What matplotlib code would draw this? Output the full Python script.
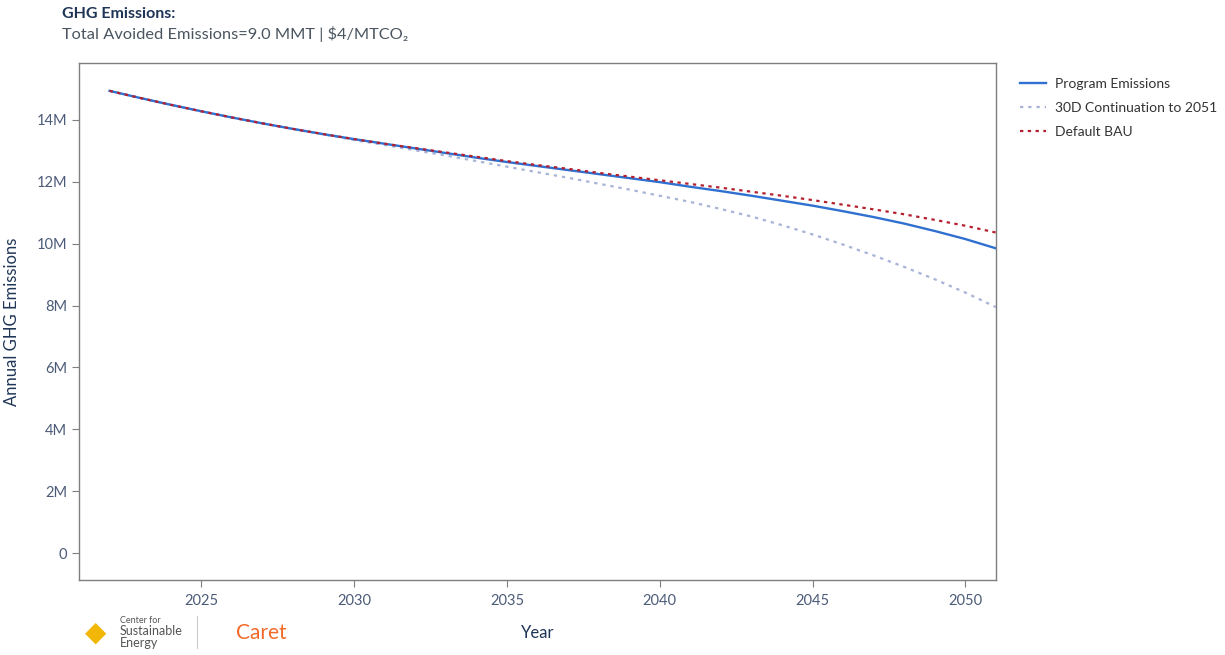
import matplotlib.pyplot as plt
from matplotlib.ticker import FuncFormatter

plt.rcParams['font.family'] = ['Lato', 'DejaVu Sans']

# Data (million metric tons CO2e)
years = list(range(2022, 2052))

program = [14.94, 14.71, 14.49, 14.28, 14.08, 13.89, 13.71, 13.54, 13.38, 13.23,
           13.08, 12.93, 12.78, 12.64, 12.51, 12.38, 12.25, 12.12, 11.99, 11.84,
           11.70, 11.55, 11.39, 11.23, 11.05, 10.86, 10.65, 10.41, 10.15, 9.85]

cont_30d = [14.94, 14.71, 14.49, 14.28, 14.08, 13.89, 13.71, 13.53, 13.35, 13.19,
            13.02, 12.85, 12.67, 12.49, 12.31, 12.13, 11.94, 11.75, 11.55, 11.35,
            11.12, 10.88, 10.60, 10.30, 9.97, 9.62, 9.25, 8.85, 8.42, 7.95]

bau = [14.94, 14.71, 14.49, 14.28, 14.08, 13.89, 13.71, 13.54, 13.38, 13.23,
       13.09, 12.95, 12.81, 12.67, 12.54, 12.42, 12.29, 12.17, 12.05, 11.93,
       11.81, 11.68, 11.55, 11.41, 11.26, 11.11, 10.95, 10.77, 10.58, 10.36]

xticks = [2025, 2030, 2035, 2040, 2045, 2050]
yticks = [0, 2, 4, 6, 8, 10, 12, 14]

navy = '#1f3556'
tickc = '#4b5b78'

fig = plt.figure(figsize=(12.25, 6.55), dpi=100)
ax = fig.add_axes([0.0645, 0.1145, 0.7485, 0.7893])

scale = 1e6
ax.plot(years, [v * scale for v in cont_30d], color='#a9b3d6', lw=1.6,
        linestyle=(0, (1.5, 2.2)), label='30D Continuation to 2051', zorder=2)
ax.plot(years, [v * scale for v in program], color='#3070d0', lw=1.7,
        label='Program Emissions', zorder=3)
ax.plot(years, [v * scale for v in bau], color='#b5202e', lw=1.6,
        linestyle=(0, (1.5, 2)), label='Default BAU', zorder=4)

ax.set_xlim(2021, 2051)
ax.set_ylim(-0.87e6, 15.84e6)
ax.set_xticks(xticks)
ax.set_yticks([v * scale for v in yticks])
ax.yaxis.set_major_formatter(FuncFormatter(lambda v, p: '0' if v == 0 else '%dM' % round(v / 1e6)))

for s in ax.spines.values():
    s.set_color('#7f7f7f')
    s.set_linewidth(1.0)
ax.tick_params(colors='#7f7f7f', labelcolor=tickc, labelsize=10.5, length=5, width=0.8)
ax.tick_params(axis='x', pad=5)

ax.set_xlabel('Year', fontsize=12, color=navy, labelpad=12)
ax.set_ylabel('Annual GHG Emissions', fontsize=12, color=navy, labelpad=12)

handles, labels = ax.get_legend_handles_labels()
order = [1, 0, 2]
leg = fig.legend([handles[i] for i in order], [labels[i] for i in order],
                 loc='upper left', bbox_to_anchor=(0.8327, 0.881), frameon=False,
                 borderpad=0, borderaxespad=0,
                 fontsize=10, labelcolor='#333333', handlelength=1.9,
                 handletextpad=0.6, labelspacing=0.85)

fig.text(0.0505, 0.99, 'GHG Emissions:', fontsize=11.5, fontweight='bold',
         color=navy, va='top')
fig.text(0.0505, 0.961, 'Total Avoided Emissions=9.0 MMT | $4/MTCO\u2082',
         fontsize=11.8, color='#4a5560', va='top')

# logo area (text stand-ins)
fig.text(0.098, 0.053, 'Center for', fontsize=6.5, color='#555555', va='center')
fig.text(0.098, 0.036, 'Sustainable', fontsize=9, color='#555555', va='center')
fig.text(0.098, 0.019, 'Energy', fontsize=9, color='#555555', va='center')
fig.text(0.069, 0.034, '\u25c6', fontsize=20, color='#f2b705', va='center')
fig.lines.append(plt.Line2D([0.161, 0.161], [0.01, 0.06], transform=fig.transFigure,
                            color='#cccccc', lw=0.8))
fig.text(0.193, 0.034, 'Caret', fontsize=15, color='#f26a2a', va='center')

fig.savefig('out.png', dpi=100)
